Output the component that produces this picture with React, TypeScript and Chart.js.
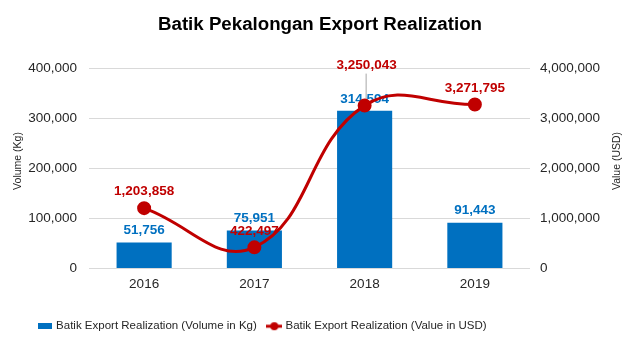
import React, { useEffect, useRef } from 'react';
import { Chart, registerables } from 'chart.js';

Chart.register(...registerables);

const years = ['2016', '2017', '2018', '2019'];
const volumeKg = [51756, 75951, 314594, 91443];
const valueUsd = [1203858, 422497, 3250043, 3271795];
const leftMax = 400000;
const leftStep = 100000;
const rightMax = 4000000;
const rightStep = 1000000;

const FONT = '"Liberation Sans", Arial, sans-serif';
const BLUE = '#0070C0';
const RED = '#C00000';
const TEXT = '#262626';

const fmt = (v: number) => v.toLocaleString('en-US');

function makeBarIcon() {
  const c = document.createElement('canvas');
  c.width = 14;
  c.height = 6;
  const g = c.getContext('2d')!;
  g.fillStyle = BLUE;
  g.fillRect(0, 0, 14, 6);
  return c;
}

function makeLineIcon() {
  const c = document.createElement('canvas');
  c.width = 16;
  c.height = 10;
  const g = c.getContext('2d')!;
  g.strokeStyle = RED;
  g.lineWidth = 3;
  g.beginPath();
  g.moveTo(0, 5);
  g.lineTo(16, 5);
  g.stroke();
  g.fillStyle = RED;
  g.beginPath();
  g.arc(8, 5, 4, 0, Math.PI * 2);
  g.fill();
  return c;
}

const lineLabelDy = [-17, -16, -40, -16];
const lineLabelDx = [0, 0, 2, 0];

const legendShift = {
  id: 'legendShift',
  afterUpdate(chart: any) {
    const lg = chart.legend;
    if (lg) {
      lg.left -= 57;
      lg.right -= 57;
    }
  },
};

const labelPlugin = {
  id: 'valueLabels',
  afterDatasetDraw(chart: any, args: any) {
    if (args.index !== 0) return;
    const ctx = chart.ctx;
    const meta = chart.getDatasetMeta(0);
    ctx.save();
    ctx.font = `bold 13.5px ${FONT}`;
    ctx.fillStyle = BLUE;
    ctx.textAlign = 'center';
    ctx.textBaseline = 'middle';
    meta.data.forEach((el: any, i: number) => {
      ctx.fillText(fmt(volumeKg[i]), el.x, el.y - 12);
    });
    // leader line for 2018 value label
    const lm = chart.getDatasetMeta(1);
    const p = lm.data[2];
    ctx.strokeStyle = '#a6a6a6';
    ctx.lineWidth = 1;
    ctx.beginPath();
    ctx.moveTo(p.x + 1.5, p.y + lineLabelDy[2] + 8);
    ctx.lineTo(p.x + 1.5, p.y - 3);
    ctx.stroke();
    ctx.restore();
  },
  afterDatasetsDraw(chart: any) {
    const ctx = chart.ctx;
    const meta = chart.getDatasetMeta(1);
    ctx.save();
    ctx.font = `bold 13.5px ${FONT}`;
    ctx.fillStyle = RED;
    ctx.textAlign = 'center';
    ctx.textBaseline = 'middle';
    meta.data.forEach((el: any, i: number) => {
      ctx.fillText(fmt(valueUsd[i]), el.x + lineLabelDx[i], el.y + lineLabelDy[i]);
    });
    // axis titles
    ctx.font = `10.5px ${FONT}`;
    ctx.fillStyle = TEXT;
    const cy = 161;
    ctx.translate(18, cy);
    ctx.rotate(-Math.PI / 2);
    ctx.fillText('Volume (Kg)', 0, 0);
    ctx.setTransform(1, 0, 0, 1, 0, 0);
    ctx.translate(617, cy);
    ctx.rotate(-Math.PI / 2);
    ctx.fillText('Value (USD)', 0, 0);
    ctx.restore();
  },
};

export default function App() {
  const ref = useRef<HTMLCanvasElement>(null);

  useEffect(() => {
    if (!ref.current) return;
    const barIcon = makeBarIcon();
    const lineIcon = makeLineIcon();
    const chart = new Chart(ref.current, {
      type: 'bar',
      data: {
        labels: years,
        datasets: [
          {
            type: 'bar',
            label: 'Batik Export Realization (Volume in Kg)',
            data: volumeKg,
            backgroundColor: BLUE,
            yAxisID: 'y',
            barPercentage: 0.5,
            categoryPercentage: 1,
            order: 2,
          },
          {
            type: 'line',
            label: 'Batik Export Realization (Value in USD)',
            data: valueUsd,
            borderColor: RED,
            backgroundColor: RED,
            borderWidth: 3,
            pointRadius: 5.5,
            pointHoverRadius: 5.5,
            pointBackgroundColor: RED,
            pointBorderColor: RED,
            tension: 0.43,
            yAxisID: 'y1',
            order: 1,
          },
        ],
      } as any,
      options: {
        animation: false,
        responsive: true,
        maintainAspectRatio: false,
        layout: { padding: { left: 0, right: 0, top: 0, bottom: 17 } },
        plugins: {
          title: {
            display: true,
            text: 'Batik Pekalongan Export Realization',
            font: { family: FONT, size: 18.7, weight: 'bold' },
            color: '#000',
            padding: { top: 13.8, bottom: 31.8 },
          },
          legend: {
            position: 'bottom',
            labels: {
              font: { family: FONT, size: 11.5 },
              color: TEXT,
              usePointStyle: true,
              pointStyleWidth: 11,
              padding: 12,
              generateLabels: (c: any) => {
                const items = (Chart.defaults.plugins.legend.labels as any).generateLabels(c);
                items.sort((a: any, b: any) => a.datasetIndex - b.datasetIndex);
                items.forEach((it: any) => {
                  it.pointStyle = it.datasetIndex === 0 ? barIcon : lineIcon;
                });
                return items;
              },
            },
          },
          tooltip: { enabled: false },
        },
        scales: {
          x: {
            grid: { display: false, drawTicks: false },
            border: { display: false },
            ticks: { font: { family: FONT, size: 13.5 }, color: TEXT, padding: 8 },
            afterFit: (s: any) => {
              s.height = 40;
            },
          },
          y: {
            position: 'left',
            min: 0,
            max: leftMax,
            ticks: {
              stepSize: leftStep,
              callback: (v: any) => fmt(Number(v)),
              font: { family: FONT, size: 13.5 },
              color: TEXT,
              padding: 12,
            },
            grid: { color: '#d9d9d9', drawTicks: false },
            border: { display: false },
            afterFit: (s: any) => {
              s.width = 89;
            },
          },
          y1: {
            position: 'right',
            min: 0,
            max: rightMax,
            ticks: {
              stepSize: rightStep,
              callback: (v: any) => fmt(Number(v)),
              font: { family: FONT, size: 13.5 },
              color: TEXT,
              padding: 10,
            },
            grid: { display: false, drawTicks: false },
            border: { display: false },
            afterFit: (s: any) => {
              s.width = 110;
            },
          },
        },
      } as any,
      plugins: [labelPlugin, legendShift],
    });
    return () => chart.destroy();
  }, []);

  return (
    <div style={{ position: 'absolute', left: 0, top: 0, width: 640, height: 359, background: '#fff' }}>
      <canvas ref={ref} />
    </div>
  );
}
